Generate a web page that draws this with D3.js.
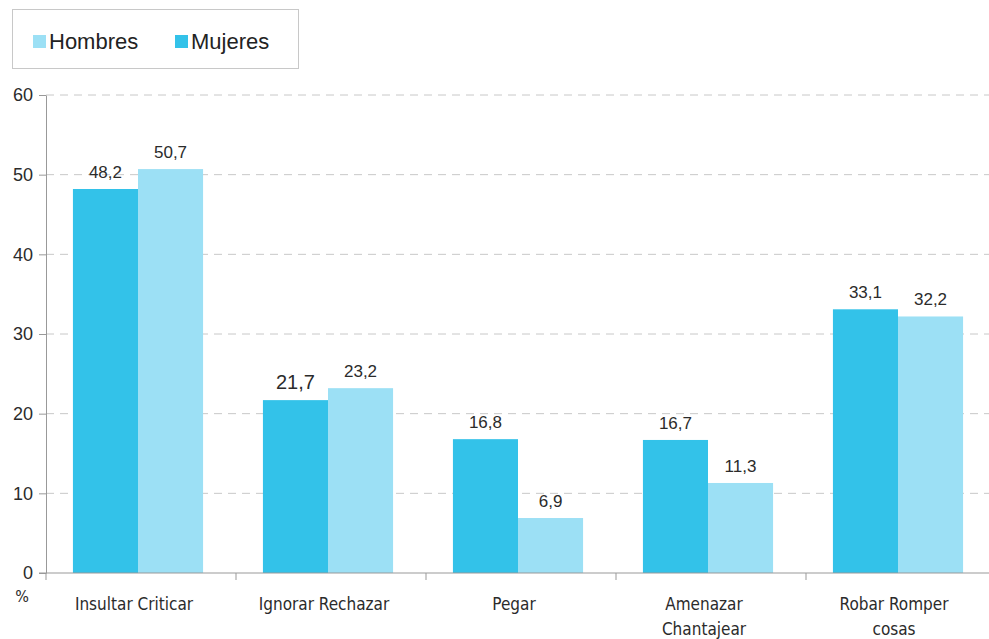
<!DOCTYPE html>
<html>
<head>
<meta charset="utf-8">
<script src="https://cdn.jsdelivr.net/npm/d3@7"></script>
<style>
  body { margin: 0; background: #fff; }
  svg { display: block; }
</style>
</head>
<body>
<div id="chart"></div>
<script>
// Chart data
const categories = [["Insultar Criticar"], ["Ignorar Rechazar"], ["Pegar"], ["Amenazar", "Chantajear"], ["Robar Romper", "cosas"]];
const seriesNames = ["Mujeres", "Hombres"];
const mujeres = [48.2, 21.7, 16.8, 16.7, 33.1];
const hombres = [50.7, 23.2, 6.9, 11.3, 32.2];
const yTicks = [0, 10, 20, 30, 40, 50, 60];
const legendOrder = ["Hombres", "Mujeres"];

const colors = {Mujeres: "#33c2e9", Hombres: "#9ce0f5"};

const width = 989, height = 639;
const margin = {top: 95, right: -7, bottom: 66, left: 46};

const svg = d3.select("#chart")
    .append("svg")
    .attr("width", width)
    .attr("height", height);

const catKeys = categories.map(c => c.join(" "));
const rows = catKeys.map((k, i) => ({key: k, lines: categories[i], Mujeres: mujeres[i], Hombres: hombres[i]}));

// Scales
const x0 = d3.scaleBand()
    .domain(catKeys)
    .range([margin.left, width - margin.right])
    .padding(0);

const x1 = d3.scaleBand()
    .domain(seriesNames)
    .range([0, x0.bandwidth()])
    .paddingInner(0)
    .paddingOuter(0.46);

const y = d3.scaleLinear()
    .domain([0, 60])
    .range([height - margin.bottom, margin.top]);

// Gridlines
svg.append("g")
    .selectAll("line")
    .data(yTicks.filter(t => t > 0))
    .join("line")
    .attr("x1", margin.left)
    .attr("x2", width)
    .attr("y1", d => y(d))
    .attr("y2", d => y(d))
    .attr("stroke", "#c8c8c8")
    .attr("stroke-width", 1)
    .attr("stroke-dasharray", "8,6");

// Bars
const shift = -3;
const groups = svg.append("g")
    .selectAll("g")
    .data(rows)
    .join("g")
    .attr("transform", d => "translate(" + (x0(d.key) + shift) + ",0)");

groups.selectAll("rect")
    .data(d => seriesNames.map(s => ({series: s, value: d[s]})))
    .join("rect")
    .attr("x", d => x1(d.series))
    .attr("y", d => y(d.value))
    .attr("width", x1.bandwidth())
    .attr("height", d => y(0) - y(d.value))
    .attr("fill", d => colors[d.series]);

// Value labels
groups.selectAll("text")
    .data(d => seriesNames.map(s => ({series: s, value: d[s]})))
    .join("text")
    .attr("x", d => x1(d.series) + x1.bandwidth() / 2)
    .attr("y", d => y(d.value) - 11)
    .attr("text-anchor", "middle")
    .attr("font-family", "Liberation Sans, Arial, sans-serif")
    .attr("font-size", d => d.value === 21.7 ? 20 : 17)
    .attr("fill", "#2b2b2b")
    .text(d => d3.format(".1f")(d.value).replace(".", ","));

// Y axis
const yAxis = svg.append("g")
    .attr("transform", "translate(" + margin.left + ",0)")
    .call(d3.axisLeft(y).tickValues(yTicks).tickSize(7).tickSizeOuter(0).tickFormat(d3.format("d")));
yAxis.select(".domain").attr("stroke", "#999");
yAxis.selectAll(".tick line").attr("stroke", "#999");
yAxis.selectAll(".tick text")
    .attr("x", -13)
    .attr("font-family", "Liberation Sans, Arial, sans-serif")
    .attr("font-size", 18)
    .attr("fill", "#2b2b2b");

// X axis
const xAxis = svg.append("g")
    .attr("transform", "translate(0," + y(0) + ")");
xAxis.append("line")
    .attr("x1", margin.left - 7)
    .attr("x2", width)
    .attr("stroke", "#999");
xAxis.selectAll(".ctick")
    .data(catKeys)
    .join("line")
    .attr("class", "ctick")
    .attr("x1", d => x0(d))
    .attr("x2", d => x0(d))
    .attr("y1", 0)
    .attr("y2", 7)
    .attr("stroke", "#999");

const catLabels = xAxis.selectAll(".clabel")
    .data(rows)
    .join("text")
    .attr("class", "clabel")
    .attr("transform", d => "translate(" + (x0(d.key) + x0.bandwidth() / 2 + shift - 4) + ",37)")
    .attr("text-anchor", "middle")
    .attr("font-family", "Liberation Sans Narrow, DejaVu Sans Condensed, sans-serif")
    .attr("font-size", 17)
    .attr("fill", "#2b2b2b");
catLabels.selectAll("tspan")
    .data(d => d.lines)
    .join("tspan")
    .attr("x", 0)
    .attr("dy", (d, i) => i === 0 ? 0 : 25)
    .text(d => d);

svg.append("text")
    .attr("x", 22)
    .attr("y", 602)
    .attr("text-anchor", "middle")
    .attr("font-family", "Liberation Sans Narrow, DejaVu Sans Condensed, sans-serif")
    .attr("font-size", 16)
    .attr("fill", "#2b2b2b")
    .text("%");

// Legend
const legend = svg.append("g");
legend.append("rect")
    .attr("x", 12.5)
    .attr("y", 9.5)
    .attr("width", 286)
    .attr("height", 59)
    .attr("fill", "#fff")
    .attr("stroke", "#c8c8c8");

const legendX = [33, 175];
const items = legend.selectAll("g")
    .data(legendOrder)
    .join("g")
    .attr("transform", (d, i) => "translate(" + legendX[i] + ",35)");
items.append("rect")
    .attr("width", 13)
    .attr("height", 13)
    .attr("fill", d => colors[d]);
items.append("text")
    .attr("x", 16)
    .attr("y", 14)
    .attr("font-family", "Liberation Sans, Arial, sans-serif")
    .attr("font-size", 22)
    .attr("fill", "#222")
    .text(d => d);
</script>
</body>
</html>
